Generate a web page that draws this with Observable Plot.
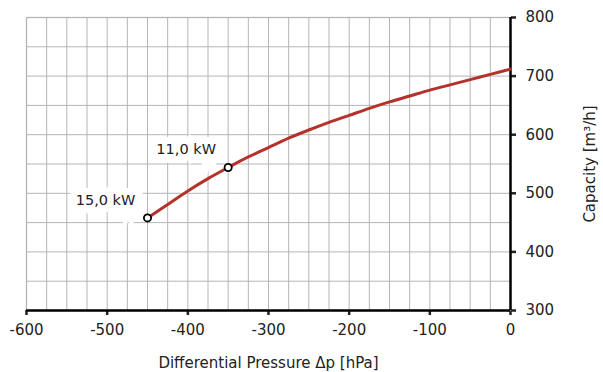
<!DOCTYPE html>
<html>
<head>
<meta charset="utf-8">
<script src="https://cdn.jsdelivr.net/npm/d3@7"></script>
<script src="https://cdn.jsdelivr.net/npm/@observablehq/plot@0.6"></script>
<style>
  body { margin: 0; background: #fff; }
  #chart svg { display: block; }
  g[aria-label="frame"] rect { filter: drop-shadow(-3px -3px 3px rgba(0,0,0,0.13)); }
  g[aria-label="x-axis tick"] path, g[aria-label="y-axis tick"] path { stroke-width: 2.5; }
  g[aria-label^="x-axis"] text, g[aria-label^="y-axis"] text { font-size: 15px; fill: #222; }
</style>
</head>
<body>
<div id="chart"></div>
<script>
const pressure = [-450, -425, -400, -375, -350, -325, -300, -275, -250, -225, -200, -175, -150, -125, -100, -75, -50, -25, 0];
const capacity = [458, 481, 504, 525, 544, 562, 578, 594, 608, 621, 633, 645, 656, 666, 676, 685, 694, 703, 712];

const markerPressure = [-450, -350];
const markerCapacity = [458, 544];
const markerLabels = ["15,0 kW", "11,0 kW"];

const xTicks = [-600, -500, -400, -300, -200, -100, 0];
const yTicks = [300, 400, 500, 600, 700, 800];
const xGrid = d3.range(-600, 1, 25);
const yGrid = d3.range(300, 801, 50);

const curve = pressure.map((p, i) => ({p, c: capacity[i]}));
const markers = markerPressure.map((p, i) => ({p, c: markerCapacity[i], label: markerLabels[i]}));

const chart = Plot.plot({
  width: 603,
  height: 372,
  marginTop: 17,
  marginRight: 93,
  marginBottom: 62,
  marginLeft: 26,
  style: {fontFamily: "DejaVu Sans", fontSize: "15px", color: "#222", background: "#fff"},
  x: {domain: [-600, 0], ticks: xTicks, tickSize: 5, tickPadding: 9, tickFormat: d => String(d),
      label: "Differential Pressure Δp [hPa]", labelAnchor: "center", labelOffset: 57, labelArrow: false},
  y: {domain: [300, 800], axis: "right", ticks: yTicks, tickSize: 5, tickPadding: 10, tickFormat: d => String(d),
      label: "Capacity [m³/h]", labelAnchor: "center", labelOffset: 84, labelArrow: false},
  marks: [
    Plot.frame({fill: "white", stroke: "#9a9a9a", strokeWidth: 1.2}),
    Plot.ruleX(xGrid, {stroke: "#b5b5b5", strokeWidth: 1}),
    Plot.ruleY(yGrid, {stroke: "#b5b5b5", strokeWidth: 1}),
    Plot.ruleX([0], {stroke: "#000", strokeWidth: 2.5}),
    Plot.ruleY([300], {stroke: "#000", strokeWidth: 2.5}),
    Plot.text(markers, {x: "p", y: "c", text: "label", dx: -42, dy: -18, fontSize: 14.5, fill: "#222",
      stroke: "white", strokeWidth: 14, strokeLinejoin: "miter"}),
    Plot.line(curve, {x: "p", y: "c", stroke: "#b5322c", strokeWidth: 3, curve: "catmull-rom"}),
    Plot.dot(markers, {x: "p", y: "c", r: 3.6, fill: "white", stroke: "#000", strokeWidth: 1.8})
  ]
});
d3.select(chart).selectAll("text").each(function() {
  const t = this.textContent;
  const s = t.replace(/\s*[→↑←↓]\s*/g, "");
  if (s !== t) this.textContent = s;
});
document.getElementById("chart").append(chart);
</script>
</body>
</html>
